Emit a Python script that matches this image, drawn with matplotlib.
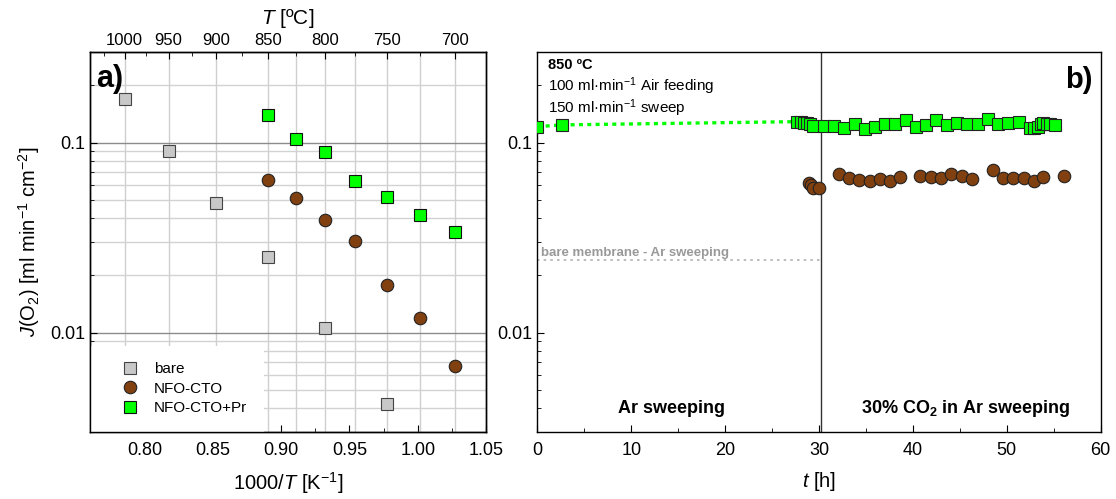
import numpy as np
import matplotlib.pyplot as plt
from matplotlib.ticker import LogLocator, MultipleLocator, FixedLocator, FuncFormatter, NullFormatter

plt.rcParams['font.family'] = ['Liberation Sans', 'DejaVu Sans']
plt.rcParams['mathtext.fontset'] = 'custom'
plt.rcParams['mathtext.rm'] = 'Liberation Sans'
plt.rcParams['mathtext.it'] = 'Liberation Sans:italic'
plt.rcParams['mathtext.bf'] = 'Liberation Sans:bold'
plt.rcParams['axes.linewidth'] = 1.0

# --- panel a) : flux vs temperature ---
T_bare = [1000, 950, 900, 850, 800, 750]
J_bare = [0.170, 0.0908, 0.0482, 0.0249, 0.0106, 0.0042]
T_cto = [850, 825, 800, 775, 750, 725, 700]
J_cto = [0.0638, 0.0509, 0.0392, 0.0305, 0.0178, 0.0120, 0.00668]
T_pr = [850, 825, 800, 775, 750, 725, 700]
J_pr = [0.140, 0.105, 0.0893, 0.063, 0.052, 0.0417, 0.034]
T_top_major = [1000, 950, 900, 850, 800, 750, 700]
T_top_minor = [1025, 975, 925, 875, 825, 775, 725]

# --- panel b) : flux vs time at 850 C ---
t_pr = [0.0, 2.65, 27.7, 28.05, 28.4, 28.7, 29.0, 29.4, 30.58, 31.62, 32.7, 33.8,
        34.9, 35.92, 37.05, 38.12, 39.24, 40.35, 41.42, 42.51, 43.6, 44.7, 45.78,
        46.88, 47.97, 49.05, 50.17, 51.26, 52.5, 52.9, 53.3, 53.6, 53.9, 54.3,
        54.6, 55.1]
Jt_pr = [0.1214, 0.124, 0.129, 0.128, 0.1274, 0.1264, 0.1254, 0.122, 0.1226,
         0.1224, 0.1195, 0.1248, 0.1185, 0.121, 0.1255, 0.1248, 0.131, 0.1214,
         0.1233, 0.1309, 0.1232, 0.1271, 0.1251, 0.1248, 0.1334, 0.1259, 0.1276,
         0.1285, 0.120, 0.120, 0.1205, 0.1254, 0.1264, 0.1254, 0.1248, 0.1233]
t_cto = [28.9, 29.15, 29.4, 30.0, 32.15, 33.2, 34.3, 35.4, 36.45, 37.55, 38.65,
         40.8, 41.9, 43.0, 44.1, 45.2, 46.3, 48.5, 49.55, 50.65, 51.8, 52.85,
         53.9, 56.1]
Jt_cto = [0.0612, 0.0598, 0.058, 0.058, 0.068, 0.065, 0.0637, 0.063, 0.064,
          0.0631, 0.066, 0.067, 0.0663, 0.0654, 0.0684, 0.0664, 0.0643, 0.072,
          0.0652, 0.0649, 0.0655, 0.0628, 0.066, 0.0668]
n_gap = 3            # first points joined by the dotted line (Ar sweeping gap)
t_switch = 30.2      # change to 30% CO2
J_bare_ar = 0.024    # bare membrane, Ar sweeping

c_gray = '#c8c8c8'
c_brown = '#80400f'
c_green = '#00ff00'
ylim = (0.003, 0.3)


def inv(T):
    return 1000.0 / (np.asarray(T, dtype=float) + 273.15)


def dec_fmt(v, p):
    return f'{v:g}'


fig = plt.figure(figsize=(11.16, 4.99), dpi=100)
ax1 = fig.add_axes([0.0806, 0.1343, 0.3549, 0.7615])
ax2 = fig.add_axes([0.4815, 0.1343, 0.5048, 0.7615])

# ---------------- a) ----------------
ax1.set_yscale('log')
ax1.set_xlim(0.76, 1.05)
ax1.set_ylim(*ylim)
ax1.set_axisbelow(True)
for T in sorted(set(T_bare) | set(T_cto) | set(T_pr)):
    ax1.axvline(inv(T), color='#cfcfcf', lw=1, zorder=0)
ax1.yaxis.grid(True, which='major', color='#8c8c8c', lw=1)
ax1.yaxis.grid(True, which='minor', color='#d2d2d2', lw=1)

ax1.plot(inv(T_bare), J_bare, 's', ms=8, mfc=c_gray, mec='#444444', mew=0.8, label='bare', zorder=3)
ax1.plot(inv(T_cto), J_cto, 'o', ms=9, mfc=c_brown, mec='#222222', mew=0.8, label='NFO-CTO', zorder=3)
ax1.plot(inv(T_pr), J_pr, 's', ms=8, mfc=c_green, mec='#111111', mew=0.8, label='NFO-CTO+Pr', zorder=3)

ax1.xaxis.set_major_locator(MultipleLocator(0.05))
ax1.xaxis.set_minor_locator(MultipleLocator(0.025))
ax1.xaxis.set_major_formatter(FuncFormatter(lambda v, p: f'{v:.2f}'))
ax1.yaxis.set_major_locator(LogLocator(base=10))
ax1.yaxis.set_minor_locator(LogLocator(base=10, subs=np.arange(2, 10)))
ax1.yaxis.set_major_formatter(FuncFormatter(dec_fmt))
ax1.yaxis.set_minor_formatter(NullFormatter())
ax1.tick_params(which='both', direction='in', top=False, right=False, labelsize=13)
ax1.tick_params(axis='x', pad=7)
ax1.tick_params(which='major', length=5)
ax1.tick_params(which='minor', length=3)
ax1.set_xlabel(r'1000/$T$ [K$^{-1}$]', fontsize=14.5, labelpad=8)
ax1.set_ylabel(r'$J$(O$_2$) [ml min$^{-1}$ cm$^{-2}$]', fontsize=14.5, labelpad=6)
ax1.text(0.015, 0.93, 'a)', transform=ax1.transAxes, fontsize=22, weight='bold', va='center')

leg = ax1.legend(loc='lower left', bbox_to_anchor=(0, 0), borderaxespad=0, borderpad=1.1,
                 handlelength=3.0, handletextpad=0.1, labelspacing=0.35, fontsize=11,
                 frameon=True, fancybox=False, framealpha=1, edgecolor='none', facecolor='white')

ax1t = ax1.twiny()
ax1t.set_xlim(ax1.get_xlim())
ax1t.xaxis.set_major_locator(FixedLocator(inv(T_top_major)))
ax1t.xaxis.set_major_formatter(FuncFormatter(lambda v, p: str(T_top_major[p]) if p is not None and p < len(T_top_major) else ''))
ax1t.set_xticks(inv(T_top_major), [str(T) for T in T_top_major])
ax1t.xaxis.set_minor_locator(FixedLocator(inv(T_top_minor)))
ax1t.tick_params(which='both', direction='in', labelsize=12, pad=3)
ax1t.tick_params(which='major', length=5)
ax1t.tick_params(which='minor', length=3)
ax1t.set_xlabel(r'$T$ [ºC]', fontsize=15, labelpad=6)

# ---------------- b) ----------------
ax2.set_yscale('log')
ax2.set_xlim(0, 60)
ax2.set_ylim(*ylim)
ax2.plot(t_pr[:n_gap], Jt_pr[:n_gap], color=c_green, lw=2.4, dashes=(1.2, 1.3), zorder=2)
ax2.plot([0, t_switch], [J_bare_ar, J_bare_ar], color='#b0b0b0', lw=1.2, dashes=(1.5, 2.5), zorder=1)
ax2.axvline(t_switch, color='#333333', lw=1, zorder=1)
ax2.plot(t_pr, Jt_pr, 's', ms=8, mfc=c_green, mec='#222222', mew=0.8, zorder=3)
ax2.plot(t_cto, Jt_cto, 'o', ms=9, mfc=c_brown, mec='#222222', mew=0.8, zorder=3)

ax2.xaxis.set_major_locator(MultipleLocator(10))
ax2.xaxis.set_minor_locator(MultipleLocator(5))
ax2.yaxis.set_major_locator(LogLocator(base=10))
ax2.yaxis.set_minor_locator(LogLocator(base=10, subs=np.arange(2, 10)))
ax2.yaxis.set_major_formatter(FuncFormatter(dec_fmt))
ax2.yaxis.set_minor_formatter(NullFormatter())
ax2.tick_params(which='both', direction='in', top=False, right=False, labelsize=13)
ax2.tick_params(axis='x', pad=7)
ax2.tick_params(which='major', length=5)
ax2.tick_params(which='minor', length=3)
ax2.set_xlabel(r'$t$ [h]', fontsize=14.5, labelpad=8)

ax2.text(0.019, 0.966, '850 ºC', transform=ax2.transAxes, fontsize=10.5, weight='bold', va='center')
ax2.text(0.019, 0.909, r'100 ml·min$^{-1}$ Air feeding', transform=ax2.transAxes, fontsize=11, va='center')
ax2.text(0.019, 0.851, r'150 ml·min$^{-1}$ sweep', transform=ax2.transAxes, fontsize=11, va='center')
ax2.text(0.985, 0.926, 'b)', transform=ax2.transAxes, fontsize=21, weight='bold', ha='right', va='center')
ax2.annotate('bare membrane - Ar sweeping', xy=(0.4, J_bare_ar), xytext=(0, 5.5),
             textcoords='offset points', fontsize=9.5, weight='bold', color='#999999', va='center')
ax2.text(0.239, 0.049, 'Ar sweeping', transform=ax2.transAxes, fontsize=13, weight='bold', ha='center', va='baseline')
ax2.text(0.761, 0.049, r'30% CO$_\mathbf{2}$ in Ar sweeping', transform=ax2.transAxes, fontsize=13,
         weight='bold', ha='center', va='baseline')

fig.savefig('out.png', dpi=100)
